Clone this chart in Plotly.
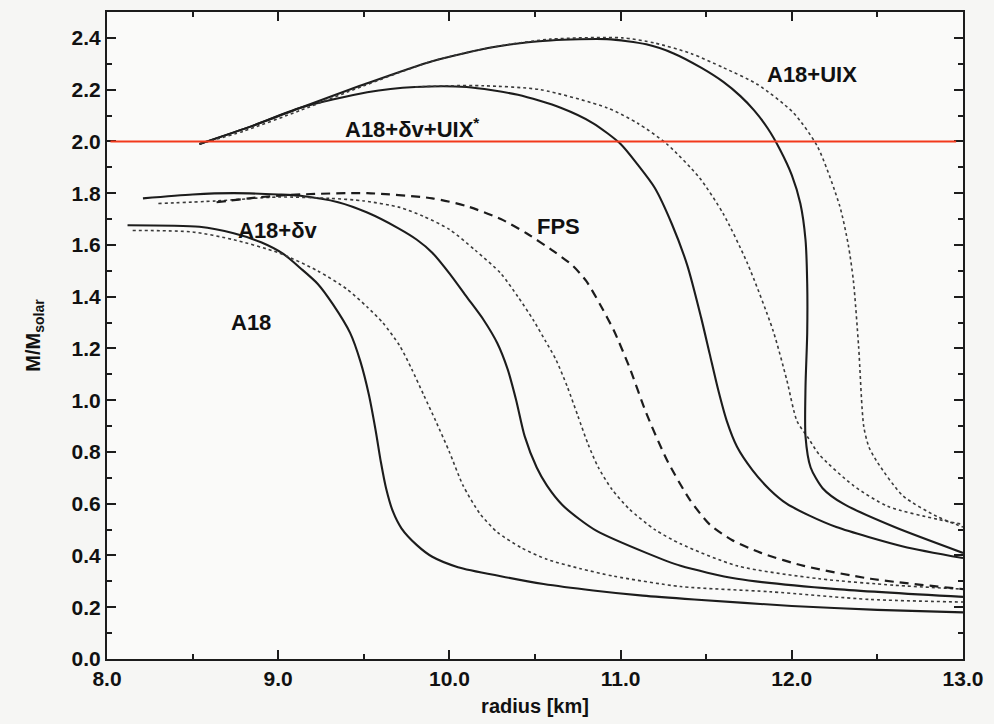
import plotly.graph_objects as go

# ---- data (radius in km, mass in solar masses) ----
a18_solid_r = [8.12, 8.54, 8.74, 8.90, 9.03, 9.13, 9.23, 9.32, 9.42, 9.48, 9.53, 9.57, 9.60, 9.63, 9.67, 9.72, 9.81, 9.90, 10.05, 10.30, 10.55, 10.84, 11.13, 11.43, 12.00, 12.50, 13.00]
a18_solid_m = [1.676, 1.67, 1.645, 1.61, 1.565, 1.51, 1.45, 1.37, 1.26, 1.15, 1.02, 0.88, 0.76, 0.66, 0.57, 0.505, 0.44, 0.395, 0.355, 0.32, 0.29, 0.265, 0.245, 0.23, 0.205, 0.19, 0.18]

a18_dot_r = [8.15, 8.50, 8.74, 9.00, 9.23, 9.40, 9.52, 9.61, 9.71, 9.78, 9.85, 9.92, 10.00, 10.08, 10.18, 10.28, 10.42, 10.57, 10.76, 10.96, 11.35, 11.87, 12.46, 13.00]
a18_dot_m = [1.656, 1.65, 1.62, 1.57, 1.50, 1.43, 1.36, 1.30, 1.21, 1.12, 1.02, 0.92, 0.80, 0.67, 0.56, 0.49, 0.43, 0.385, 0.35, 0.32, 0.28, 0.26, 0.23, 0.22]

dv_solid_r = [8.21, 8.50, 8.74, 9.00, 9.13, 9.35, 9.52, 9.70, 9.81, 9.90, 10.00, 10.10, 10.20, 10.28, 10.34, 10.39, 10.44, 10.51, 10.57, 10.66, 10.76, 10.86, 11.15, 11.35, 11.68, 12.26, 13.00]
dv_solid_m = [1.78, 1.795, 1.80, 1.795, 1.79, 1.765, 1.725, 1.665, 1.62, 1.57, 1.49, 1.40, 1.31, 1.22, 1.12, 1.00, 0.86, 0.74, 0.67, 0.595, 0.54, 0.495, 0.41, 0.36, 0.31, 0.27, 0.24]

dv_dot_r = [8.30, 8.64, 9.00, 9.30, 9.50, 9.71, 9.85, 10.00, 10.15, 10.30, 10.40, 10.49, 10.56, 10.62, 10.69, 10.75, 10.81, 10.87, 10.95, 11.05, 11.20, 11.35, 11.68, 12.16, 12.60, 13.00]
dv_dot_m = [1.76, 1.77, 1.785, 1.78, 1.77, 1.745, 1.71, 1.66, 1.58, 1.49, 1.40, 1.31, 1.23, 1.16, 1.05, 0.94, 0.83, 0.74, 0.655, 0.58, 0.50, 0.445, 0.36, 0.31, 0.285, 0.27]

fps_r = [8.64, 8.90, 9.13, 9.52, 9.90, 10.10, 10.30, 10.45, 10.61, 10.72, 10.80, 10.88, 10.96, 11.05, 11.15, 11.27, 11.40, 11.52, 11.65, 11.82, 12.07, 12.46, 13.00]
fps_m = [1.765, 1.785, 1.795, 1.80, 1.78, 1.75, 1.70, 1.645, 1.575, 1.52, 1.46, 1.37, 1.27, 1.13, 0.95, 0.77, 0.62, 0.52, 0.46, 0.41, 0.36, 0.31, 0.27]

dvuix_solid_r = [8.54, 8.85, 9.13, 9.52, 9.80, 10.10, 10.40, 10.65, 10.84, 11.00, 11.10, 11.20, 11.30, 11.39, 11.47, 11.52, 11.57, 11.62, 11.68, 11.77, 11.87, 11.97, 12.10, 12.26, 12.65, 13.00]
dvuix_solid_m = [1.99, 2.06, 2.13, 2.19, 2.21, 2.21, 2.18, 2.13, 2.07, 1.99, 1.91, 1.82, 1.68, 1.52, 1.32, 1.18, 1.04, 0.92, 0.82, 0.73, 0.655, 0.60, 0.555, 0.51, 0.435, 0.39]

dvuix_dot_r = [9.80, 10.00, 10.20, 10.53, 10.92, 11.10, 11.27, 11.46, 11.60, 11.74, 11.89, 11.97, 12.03, 12.10, 12.16, 12.36, 12.56, 12.85, 13.00]
dvuix_dot_m = [2.21, 2.215, 2.215, 2.20, 2.13, 2.07, 1.99, 1.86, 1.72, 1.53, 1.27, 1.08, 0.92, 0.85, 0.79, 0.67, 0.59, 0.54, 0.52]

uix_solid_r = [8.54, 8.85, 9.13, 9.50, 9.90, 10.26, 10.59, 10.92, 11.15, 11.31, 11.47, 11.60, 11.70, 11.78, 11.86, 11.93, 12.00, 12.05, 12.08, 12.09, 12.09, 12.08, 12.08, 12.11, 12.18, 12.30, 12.60, 13.00]
uix_solid_m = [1.99, 2.06, 2.13, 2.22, 2.31, 2.365, 2.39, 2.395, 2.375, 2.34, 2.285, 2.23, 2.175, 2.12, 2.05, 1.97, 1.87, 1.76, 1.62, 1.45, 1.26, 1.05, 0.86, 0.74, 0.66, 0.60, 0.51, 0.41]

uix_dot_r = [8.54, 8.80, 9.13, 9.50, 9.90, 10.26, 10.59, 11.01, 11.20, 11.41, 11.60, 11.80, 12.01, 12.15, 12.28, 12.33, 12.36, 12.39, 12.42, 12.45, 12.50, 12.65, 12.85, 13.00]
uix_dot_m = [1.99, 2.04, 2.12, 2.215, 2.31, 2.365, 2.395, 2.40, 2.38, 2.34, 2.285, 2.22, 2.11, 1.98, 1.75, 1.60, 1.46, 1.21, 0.90, 0.82, 0.76, 0.63, 0.55, 0.51]

labels = ["A18+UIX", "A18+δv+UIX<sup>*</sup>", "FPS", "A18+δv", "A18"]
label_r = [12.12, 9.78, 10.64, 9.00, 8.84]
label_m = [2.26, 2.05, 1.67, 1.655, 1.30]

ref_mass = 2.0
x_ticks = [8.0, 9.0, 10.0, 11.0, 12.0, 13.0]

INK = "#1c1c1c"
FONT = "Liberation Sans, Arial, Helvetica, sans-serif"

fig = go.Figure()

def add(r, m, dash, width, color=INK):
    fig.add_trace(go.Scatter(
        x=r, y=m, mode="lines",
        line=dict(color=color, width=width, dash=dash, shape="spline", smoothing=0.7),
        showlegend=False, hoverinfo="skip"))

add(a18_solid_r, a18_solid_m, "solid", 2.1)
add(a18_dot_r, a18_dot_m, "dot", 1.6, "#3a3a3a")
add(dv_solid_r, dv_solid_m, "solid", 2.1)
add(dv_dot_r, dv_dot_m, "dot", 1.6, "#3a3a3a")
add(fps_r, fps_m, "9px,6px", 2.2)
add(dvuix_solid_r, dvuix_solid_m, "solid", 2.1)
add(dvuix_dot_r, dvuix_dot_m, "dot", 1.6, "#3a3a3a")
add(uix_solid_r, uix_solid_m, "solid", 2.1)
add(uix_dot_r, uix_dot_m, "dot", 1.6, "#3a3a3a")

# red reference line at 2 solar masses
fig.add_shape(type="line", xref="x", yref="y", x0=8.02, x1=12.96, y0=ref_mass, y1=ref_mass,
              line=dict(color="#f2391c", width=2))

for t, r, m in zip(labels, label_r, label_m):
    fig.add_annotation(x=r, y=m, text=t, showarrow=False, xref="x", yref="y",
                       font=dict(family=FONT, size=22, color="#111111", weight="bold"))

axis_common = dict(
    showline=True, linecolor=INK, linewidth=2, mirror="allticks",
    ticks="inside", tickcolor=INK, tickwidth=1.5, ticklen=9,
    showgrid=False, zeroline=False,
    tickfont=dict(family=FONT, size=21, color="#111111", weight="bold"),
    tickformat=".1f",
)

fig.update_xaxes(range=[8, 13], tickvals=x_ticks,
                 minor=dict(dtick=0.5, ticks="inside", ticklen=5, tickcolor=INK, tickwidth=1.5),
                 title=dict(text="radius [km]", font=dict(family=FONT, size=20, color="#111111", weight="bold"), standoff=10),
                 **axis_common)
fig.update_yaxes(range=[0, 2.5], dtick=0.2, tick0=0,
                 minor=dict(dtick=0.1, ticks="inside", ticklen=5, tickcolor=INK, tickwidth=1.5),
                 title=dict(text="M/M<sub>solar</sub>", font=dict(family=FONT, size=20, color="#111111", weight="bold"), standoff=26),
                 **axis_common)

fig.update_layout(
    width=994, height=724,
    margin=dict(l=107, r=31, t=10, b=64),
    paper_bgcolor="#f6f6f4",
    plot_bgcolor="#fafaf9",
)

fig.write_html("out.html")
